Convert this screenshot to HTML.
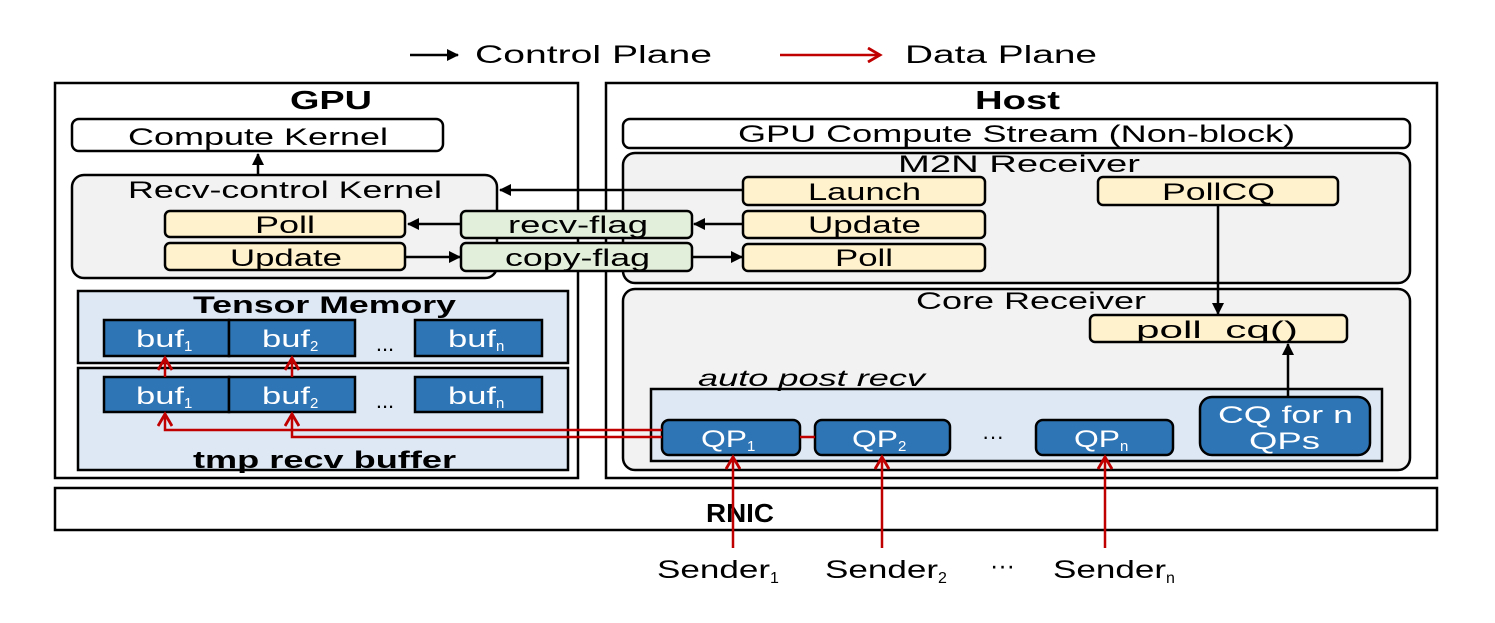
<!DOCTYPE html>
<html><head><meta charset="utf-8"><style>
html,body{margin:0;padding:0;background:#fff;}
svg{display:block;font-family:"Liberation Sans",Arial,sans-serif;}
</style></head><body>
<svg width="1495" height="623" viewBox="0 0 1495 623" xmlns="http://www.w3.org/2000/svg">
<defs>
<marker id="ab" markerWidth="12" markerHeight="12" refX="11" refY="6" orient="auto" markerUnits="userSpaceOnUse"><path d="M0,0 L12,6 L0,12 z" fill="#000"/></marker>
<marker id="ar" markerWidth="16" markerHeight="16" refX="13" refY="8" orient="auto" markerUnits="userSpaceOnUse"><path d="M1,1 L13,8 L1,15" fill="none" stroke="#c00000" stroke-width="2.8"/></marker>
</defs>
<g font-size="25">
<line x1="410" y1="55" x2="458" y2="55" stroke="#000" stroke-width="2.5" marker-end="url(#ab)"/>
<text x="475" y="63" textLength="237" lengthAdjust="spacingAndGlyphs">Control Plane</text>
<line x1="780" y1="55" x2="880" y2="55" stroke="#c00000" stroke-width="2.5" marker-end="url(#ar)"/>
<text x="905" y="63" textLength="192" lengthAdjust="spacingAndGlyphs">Data Plane</text>
</g>
<g stroke="#000" stroke-width="2.5" fill="#fff">
<rect x="55" y="83" width="523" height="395"/>
<rect x="606" y="83" width="831" height="395"/>
<rect x="55" y="488" width="1382" height="42"/>
</g>
<g font-weight="bold" font-size="26">
<text x="290" y="109" textLength="82" lengthAdjust="spacingAndGlyphs">GPU</text>
<text x="975" y="109" textLength="85" lengthAdjust="spacingAndGlyphs">Host</text>
<text x="706" y="522" textLength="68" lengthAdjust="spacingAndGlyphs">RNIC</text>
</g>
<g stroke="#000" stroke-width="2.5">
<rect x="72" y="119" width="371" height="32" rx="7" fill="#fff"/>
<rect x="72" y="175" width="425" height="103" rx="12" fill="#f2f2f2"/>
<rect x="165" y="211" width="240" height="26" rx="5" fill="#fff2cc"/>
<rect x="165" y="243" width="240" height="27" rx="5" fill="#fff2cc"/>
<rect x="623" y="119" width="787" height="29" rx="7" fill="#fff"/>
<rect x="623" y="153" width="787" height="130" rx="12" fill="#f2f2f2"/>
<rect x="743" y="177" width="242" height="28" rx="5" fill="#fff2cc"/>
<rect x="743" y="211" width="242" height="27" rx="5" fill="#fff2cc"/>
<rect x="743" y="244" width="242" height="27" rx="5" fill="#fff2cc"/>
<rect x="1098" y="177" width="240" height="28" rx="5" fill="#fff2cc"/>
<rect x="461" y="211" width="231" height="27" rx="5" fill="#e2efda"/>
<rect x="461" y="243" width="231" height="28" rx="5" fill="#e2efda"/>
<rect x="623" y="289" width="787" height="181" rx="12" fill="#f2f2f2"/>
<rect x="1090" y="315" width="257" height="27" rx="5" fill="#fff2cc"/>
<rect x="651" y="389" width="731" height="72" fill="#dee8f4"/>
<rect x="78" y="291" width="490" height="72" fill="#dee8f4"/>
<rect x="78" y="368" width="490" height="102" fill="#dee8f4"/>
</g>
<g stroke="#000" stroke-width="2.5" fill="#2e75b6">
<rect x="104" y="320" width="125" height="36"/>
<rect x="229" y="320" width="126" height="36"/>
<rect x="415" y="320" width="127" height="36"/>
<rect x="104" y="377" width="125" height="35"/>
<rect x="229" y="377" width="126" height="35"/>
<rect x="415" y="377" width="127" height="35"/>
<rect x="662" y="420" width="138" height="35" rx="7"/>
<rect x="815" y="420" width="135" height="35" rx="7"/>
<rect x="1036" y="420" width="137" height="35" rx="7"/>
<rect x="1200" y="397" width="170" height="58" rx="12"/>
</g>
<g font-size="24">
<text x="128" y="145" textLength="260" lengthAdjust="spacingAndGlyphs">Compute Kernel</text>
<text x="128" y="198" textLength="314" lengthAdjust="spacingAndGlyphs">Recv-control Kernel</text>
<text x="255" y="233" textLength="60" lengthAdjust="spacingAndGlyphs">Poll</text>
<text x="230" y="266" textLength="112" lengthAdjust="spacingAndGlyphs">Update</text>
<text x="508" y="233" textLength="140" lengthAdjust="spacingAndGlyphs">recv-flag</text>
<text x="505" y="266" textLength="145" lengthAdjust="spacingAndGlyphs">copy-flag</text>
<text x="738" y="142" textLength="557" lengthAdjust="spacingAndGlyphs">GPU Compute Stream (Non-block)</text>
<text x="898" y="172" textLength="242" lengthAdjust="spacingAndGlyphs">M2N Receiver</text>
<text x="808" y="200" textLength="113" lengthAdjust="spacingAndGlyphs">Launch</text>
<text x="808" y="233" textLength="113" lengthAdjust="spacingAndGlyphs">Update</text>
<text x="835" y="266" textLength="58" lengthAdjust="spacingAndGlyphs">Poll</text>
<text x="1162" y="200" textLength="113" lengthAdjust="spacingAndGlyphs">PollCQ</text>
<text x="916" y="309" textLength="230" lengthAdjust="spacingAndGlyphs">Core Receiver</text>
<text x="1136" y="338" textLength="162" lengthAdjust="spacingAndGlyphs">poll_cq()</text>
</g>
<text x="698" y="386" font-size="23" font-style="italic" textLength="227" lengthAdjust="spacingAndGlyphs">auto post recv</text>
<g font-weight="bold" font-size="24">
<text x="193" y="313" textLength="263" lengthAdjust="spacingAndGlyphs">Tensor Memory</text>
<text x="193" y="468" textLength="263" lengthAdjust="spacingAndGlyphs">tmp recv buffer</text>
</g>
<g font-size="24" fill="#fff">
<text x="136" y="347"><tspan textLength="48" lengthAdjust="spacingAndGlyphs">buf</tspan><tspan font-size="15" dy="4">1</tspan></text>
<text x="262" y="347"><tspan textLength="48" lengthAdjust="spacingAndGlyphs">buf</tspan><tspan font-size="15" dy="4">2</tspan></text>
<text x="448" y="347"><tspan textLength="48" lengthAdjust="spacingAndGlyphs">buf</tspan><tspan font-size="15" dy="4">n</tspan></text>
<text x="136" y="404"><tspan textLength="48" lengthAdjust="spacingAndGlyphs">buf</tspan><tspan font-size="15" dy="4">1</tspan></text>
<text x="262" y="404"><tspan textLength="48" lengthAdjust="spacingAndGlyphs">buf</tspan><tspan font-size="15" dy="4">2</tspan></text>
<text x="448" y="404"><tspan textLength="48" lengthAdjust="spacingAndGlyphs">buf</tspan><tspan font-size="15" dy="4">n</tspan></text>
<text x="701" y="447"><tspan textLength="46" lengthAdjust="spacingAndGlyphs">QP</tspan><tspan font-size="15" dy="4">1</tspan></text>
<text x="852" y="447"><tspan textLength="46" lengthAdjust="spacingAndGlyphs">QP</tspan><tspan font-size="15" dy="4">2</tspan></text>
<text x="1074" y="447"><tspan textLength="46" lengthAdjust="spacingAndGlyphs">QP</tspan><tspan font-size="15" dy="4">n</tspan></text>
<text x="1218" y="423" textLength="135" lengthAdjust="spacingAndGlyphs">CQ for n</text>
<text x="1249" y="449" textLength="71" lengthAdjust="spacingAndGlyphs">QPs</text>
</g>
<g font-size="22" text-anchor="middle">
<text x="385" y="408">...</text>
<text x="385" y="351">...</text>
<text x="993" y="444">···</text>
</g>
<g stroke="#000" stroke-width="2.5" fill="none">
<line x1="258" y1="176" x2="258" y2="154" marker-end="url(#ab)"/>
<line x1="743" y1="190" x2="500" y2="190" marker-end="url(#ab)"/>
<line x1="743" y1="224" x2="694" y2="224" marker-end="url(#ab)"/>
<line x1="461" y1="224" x2="408" y2="224" marker-end="url(#ab)"/>
<line x1="405" y1="257" x2="460" y2="257" marker-end="url(#ab)"/>
<line x1="692" y1="257" x2="742" y2="257" marker-end="url(#ab)"/>
<line x1="1218" y1="205" x2="1218" y2="314" marker-end="url(#ab)"/>
<line x1="1288" y1="397" x2="1288" y2="344" marker-end="url(#ab)"/>
</g>
<g stroke="#c00000" stroke-width="2.5" fill="none">
<line x1="165" y1="377" x2="165" y2="358" marker-end="url(#ar)"/>
<line x1="292" y1="377" x2="292" y2="358" marker-end="url(#ar)"/>
<polyline points="662,430 165,430 165,414" marker-end="url(#ar)"/>
<polyline points="662,437 292,437 292,414" marker-end="url(#ar)"/>
<line x1="800" y1="437" x2="815" y2="437"/>
<line x1="733" y1="548" x2="733" y2="457" marker-end="url(#ar)"/>
<line x1="882" y1="548" x2="882" y2="457" marker-end="url(#ar)"/>
<line x1="1105" y1="548" x2="1105" y2="457" marker-end="url(#ar)"/>
</g>
<g font-size="25">
<text x="657" y="578"><tspan textLength="113" lengthAdjust="spacingAndGlyphs">Sender</tspan><tspan font-size="16" dy="5">1</tspan></text>
<text x="825" y="578"><tspan textLength="113" lengthAdjust="spacingAndGlyphs">Sender</tspan><tspan font-size="16" dy="5">2</tspan></text>
<text x="990" y="574">···</text>
<text x="1053" y="578"><tspan textLength="113" lengthAdjust="spacingAndGlyphs">Sender</tspan><tspan font-size="16" dy="5">n</tspan></text>
</g>
</svg>
</body></html>
